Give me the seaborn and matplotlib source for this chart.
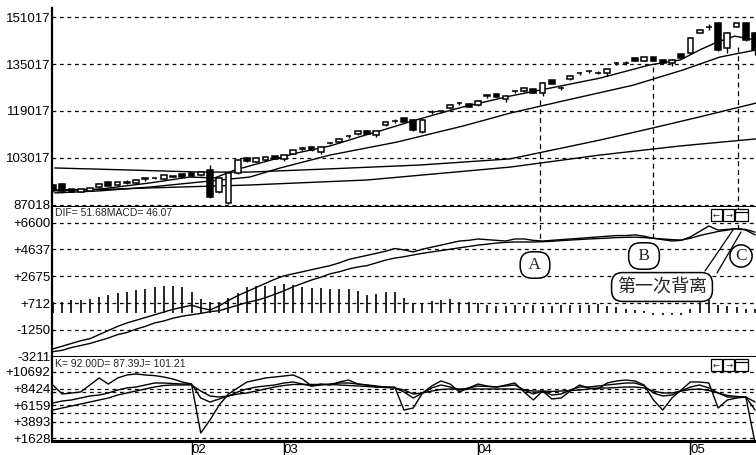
import matplotlib
matplotlib.use("Agg")
import matplotlib.pyplot as plt
from matplotlib.lines import Line2D
from matplotlib.patches import Rectangle
import seaborn as sns
import numpy as np

# ---------------- price panel (K-lines) ----------------
opens = [938, 941, 923, 918, 920, 930, 945, 938, 946, 945, 960, 961, 962, 967, 974, 975, 972, 989, 914, 877,
         979, 1028, 1022, 1024, 1035, 1030, 1045, 1062, 1066, 1050, 1080, 1085, 1103, 1112, 1121, 1112, 1142, 1155, 1162, 1159,
         1118, 1186, 1189, 1201, 1216, 1214, 1212, 1242, 1247, 1232, 1257, 1258, 1262, 1250, 1291, 1268, 1300, 1318, 1325, 1319,
         1322, 1352, 1353, 1370, 1362, 1371, 1362, 1356, 1380, 1387, 1458, 1475, 1490, 1404, 1480, 1490, 1455]
closes = [921, 916, 918, 921, 924, 942, 938, 946, 948, 956, 961, 962, 968, 968, 969, 971, 982, 897, 962, 979,
          1023, 1020, 1025, 1032, 1028, 1037, 1055, 1064, 1058, 1067, 1081, 1094, 1105, 1121, 1115, 1119, 1152, 1156, 1157, 1125,
          1159, 1187, 1191, 1212, 1217, 1206, 1224, 1244, 1240, 1240, 1258, 1268, 1254, 1285, 1286, 1269, 1309, 1320, 1327, 1320,
          1330, 1354, 1354, 1363, 1372, 1364, 1357, 1364, 1375, 1438, 1466, 1476, 1398, 1455, 1486, 1432, 1398]
highs = [941, 945, 926, 925, 928, 945, 948, 949, 955, 959, 963, 964, 970, 970, 976, 978, 985, 1006, 965, 982,
         1026, 1032, 1030, 1035, 1037, 1040, 1058, 1066, 1069, 1070, 1085, 1097, 1107, 1124, 1124, 1121, 1155, 1162, 1164, 1162,
         1162, 1192, 1193, 1215, 1222, 1217, 1227, 1246, 1250, 1243, 1263, 1271, 1265, 1288, 1294, 1274, 1312, 1322, 1329, 1325,
         1333, 1356, 1359, 1373, 1375, 1374, 1366, 1367, 1383, 1441, 1469, 1486, 1493, 1458, 1490, 1493, 1458]
lows = [914, 912, 914, 915, 917, 927, 935, 934, 940, 942, 953, 959, 960, 965, 966, 968, 969, 893, 910, 874,
        975, 1016, 1018, 1021, 1025, 1020, 1042, 1055, 1055, 1045, 1076, 1082, 1097, 1110, 1112, 1100, 1140, 1150, 1155, 1122,
        1115, 1181, 1183, 1198, 1211, 1203, 1208, 1236, 1237, 1222, 1253, 1255, 1251, 1240, 1283, 1263, 1297, 1313, 1320, 1315,
        1310, 1347, 1348, 1360, 1359, 1361, 1350, 1345, 1372, 1384, 1455, 1466, 1395, 1387, 1478, 1428, 1380]

# moving averages, read as vertices (period index, price)
ma_a_x = [0.2, 5.1, 10.5, 14.8, 17.5, 19.7, 21.3, 26.4, 30, 33.5, 35.7, 38.6, 41.6, 44.4, 49.5, 53.8, 59.2, 64.6, 67.9, 70, 71.9, 73.8, 76.1]
ma_a = [921, 924, 945, 965, 962, 989, 1003, 1047, 1071, 1105, 1125, 1153, 1180, 1204, 1241, 1268, 1302, 1347, 1364, 1398, 1425, 1445, 1432]
ma_b_x = [0.2, 5.1, 10.5, 15.9, 21.3, 24.6, 30, 37.2, 44.4, 49.5, 55.6, 62.8, 68.2, 72.2, 76.1]
ma_b = [911, 918, 931, 948, 965, 996, 1040, 1084, 1139, 1183, 1227, 1278, 1330, 1374, 1398]
ma_c_x = [0.2, 8.3, 15.9, 21.3, 30, 39.7, 49.5, 59.2, 64.9, 70, 76.1]
ma_c = [996, 989, 982, 982, 993, 1006, 1027, 1091, 1132, 1170, 1217]
ma_d_x = [0.2, 10.5, 21.3, 34, 49.5, 59.2, 67.9, 76.1]
ma_d = [918, 928, 938, 955, 999, 1040, 1071, 1095]

price_ticks = [1510.17, 1350.17, 1190.17, 1030.17, 870.18]
price_labels = ["151017", "135017", "119017", "103017", "87018"]

# ---------------- MACD panel ----------------
dif = [-26.5, -24.5, -22.5, -20.5, -19, -16, -13, -10, -7.5, -5.5, -3.5, -1.5, 0.5, 2.5, 4, 5.5, 3.5, 2, 5, 9,
       12.5, 15.5, 18.5, 21.5, 24.5, 27, 28.5, 30, 31.5, 33, 34.5, 36.5, 39, 40.5, 42, 43.5, 45, 47, 46, 44.5,
       46.5, 48, 49.5, 51, 52.5, 53, 54, 53.5, 53, 52.5, 54, 54, 53, 52.5, 53, 53.5, 54, 54.5, 55, 55.5,
       56, 56.5, 56.5, 57, 56, 54.5, 53.5, 52.5, 53, 55.5, 59.5, 63.5, 60.5, 61, 61.5, 60.5, 57]
dea = [-28.5, -27.5, -25.5, -24, -22.5, -20.5, -18.5, -16, -14.5, -12, -10, -7.5, -6, -4, -2.5, -1.5, -0.5, 0.8, 1.5, 3.5,
       5.5, 7.5, 9, 11, 13.5, 16, 19, 21.5, 24, 26, 28.5, 30, 32, 33.5, 34.5, 36.5, 38.5, 40, 41, 42.3,
       43.5, 44.5, 45.5, 46.5, 47.5, 48.5, 49.5, 50.2, 51, 51.5, 51.8, 51.8, 51.8, 52, 52.3, 52.8, 53.2, 53.6, 54, 54.3,
       54.6, 55, 55.2, 55.3, 55, 54.5, 54, 53.5, 53.2, 54.5, 56.5, 58, 59.5, 60.5, 61.5, 61, 59]
macd_bar = [7.8, 7.8, 9.2, 9.2, 10, 11.5, 13, 14.5, 15, 16.5, 17.5, 19, 19.9, 19.5, 19, 15, 10, 7.8, 7.8, 11,
            14.5, 18.5, 19.5, 19.9, 19.9, 21, 20, 18.5, 18.4, 18.4, 17.7, 17.7, 17.7, 16, 13, 14, 14.9, 14.9, 11, 7,
            7, 8.5, 9.2, 10, 8, 7.8, 7, 5.5, 5, 5, 5.5, 5, 5.5, 5, 5, 5.5, 5.5, 6, 6, 6.5,
            5, 4, 3, 2, 1.5, -1.5, -2, -2, -1.5, 3, 8, 9, 6, 5, 4, 3, 2.5]
macd_ticks = [66.00, 46.37, 26.75, 7.12, -12.50, -32.11]
macd_labels = ["+6600", "+4637", "+2675", "+712", "-1250", "-3211"]

# ---------------- KDJ panel ----------------
k_line = [64.4, 67.1, 68.5, 71.2, 74, 75.3, 78.1, 82.2, 85, 86.3, 89.1, 91.8, 91.8, 91.1, 90.4, 90.4, 71.2, 65.7, 69.9, 74,
          79.5, 83.6, 86.3, 87.7, 89.1, 91.8, 93.2, 90.4, 87.7, 89.1, 90.4, 91.8, 91.8, 90.4, 89.1, 87.7, 86.3, 85, 79.5, 71.2,
          78.1, 85, 89.1, 86.3, 82.2, 85, 87.7, 87, 86.3, 87.7, 89.1, 82.2, 76.7, 80.8, 75.3, 76.7, 82.2, 86.3, 86.3, 87.7,
          89.1, 90.4, 91.8, 91.8, 87.7, 78.1, 74, 75.3, 80.8, 86.3, 89.1, 85, 78.1, 72.6, 72.6, 72.6, 54.7]
d_line = [54.7, 57.5, 60.2, 63, 65.7, 68.5, 71.2, 75.3, 78.1, 80.8, 83.6, 86.3, 88.4, 89.1, 89.1, 89.1, 80.8, 74, 72.6, 74,
          76.7, 78.1, 80.8, 83.6, 86.3, 88.4, 89.8, 89.8, 89.8, 89.8, 89.8, 89.1, 88.4, 87.7, 87, 86.3, 85.6, 85, 82.2, 76.7,
          78.1, 80.8, 82.9, 83.6, 83.6, 83.6, 83.6, 83.6, 83.6, 83.6, 83.6, 82.2, 80.8, 80.8, 80.2, 80.8, 81.5, 82.2, 83.6, 85,
          85, 85.6, 86.3, 86.3, 85, 80.8, 78.1, 78.1, 80.8, 82.9, 83.6, 81.5, 78.1, 74.7, 73.3, 72.6, 65.7]
j_line = [89, 76.7, 78, 79.5, 89, 98.7, 90.4, 98.7, 102.8, 104.2, 102.8, 102, 100, 97.3, 93.2, 90.4, 23.2, 41, 61.6, 76.7,
          85, 93.2, 95.9, 98.7, 100, 101.4, 102.8, 97.3, 87.7, 90.4, 89, 93.2, 95.9, 90.4, 89, 86.3, 86.3, 86.3, 54.7, 57.5,
          78, 87.7, 94.6, 90.4, 79.5, 85, 90.4, 87.7, 86.3, 89, 91.8, 79.5, 68.5, 80.8, 69.9, 71.2, 80.8, 89, 85, 83.6,
          91.8, 94.6, 95.9, 94.6, 89, 68.5, 54.7, 71.2, 82.2, 93.2, 93.2, 91.8, 57.5, 68.5, 71.2, 72.6, 9.4]
kdj_ticks = [106.92, 84.24, 61.59, 38.93, 16.28]
kdj_labels = ["+10692", "+8424", "+6159", "+3893", "+1628"]
kdj_extra = [80.0, 50.0]

# month marks and divergence points A, B, C
month_pos = [15, 25, 46, 69]
month_labels = ["02", "03", "04", "05"]
div_pos = [52.7, 64.9, 74.1]
div_price = [1227, 1340, 1408]
div_dif = [52.5, 52.5, 61.3]
div_names = ["A", "B", "C"]

sns.set_theme(style="white")
plt.rcParams["font.family"] = ["Liberation Sans", "DejaVu Sans"]

W, H = 756, 455
fig = plt.figure(figsize=(W / 100, H / 100), dpi=100)


def box(top, bottom, left=52, right=756):
    return [left / W, 1 - bottom / H, (right - left) / W, (bottom - top) / H]


def fx(px):
    return px / W


def fy(py):
    return 1 - py / H


ax1 = fig.add_axes(box(8, 207))
ax2 = fig.add_axes(box(207, 357))
ax3 = fig.add_axes(box(357, 441))
dash = (0, (3, 3))

for ax, ticks, labels in [(ax1, price_ticks, price_labels), (ax2, macd_ticks, macd_labels), (ax3, kdj_ticks, kdj_labels)]:
    ax.set_xlim(-0.1, 76.1)
    ax.set_yticks(ticks)
    ax.set_yticklabels(labels, fontsize=9.5, color="black")
    ax.tick_params(axis="y", length=0, pad=1)
    for v in ticks:
        ax.axhline(v, color="black", lw=0.9, ls=dash, zorder=1)
    for s in ["top", "right"]:
        ax.spines[s].set_visible(False)
    ax.spines["left"].set_linewidth(1.6)
    ax.spines["bottom"].set_linewidth(2.2)
    ax.spines["left"].set_color("black")
    ax.spines["bottom"].set_color("black")
    ax.set_facecolor("white")

ax1.set_ylim(863, 1541)
ax2.set_ylim(-32.4, 77.4)
ax3.set_ylim(12.2, 127.5)
ax1.set_xticks([])
ax2.set_xticks([])

# candles
idx = np.arange(len(closes))
o = np.array(opens, float)
c = np.array(closes, float)
hi = np.array(highs, float)
lo = np.array(lows, float)
ax1.vlines(idx, lo, hi, color="black", lw=1, zorder=2)
up = c >= o
body = np.abs(c - o)
body_h = np.where(body < 3, 1.5, np.maximum(body, 11))
body_lo = (o + c) / 2 - body_h / 2
ax1.bar(idx[up], body_h[up], bottom=body_lo[up], width=0.62, color="white", edgecolor="black", lw=1.1, zorder=3)
ax1.bar(idx[~up], body_h[~up], bottom=body_lo[~up], width=0.62, color="black", edgecolor="black", lw=1.1, zorder=3)

for xs, ys in [(ma_a_x, ma_a), (ma_b_x, ma_b), (ma_c_x, ma_c), (ma_d_x, ma_d)]:
    sns.lineplot(x=xs, y=ys, ax=ax1, color="black", lw=1, zorder=2)

# MACD
ax2.vlines(idx, 0, macd_bar, color="black", lw=1.2, zorder=2)
sns.lineplot(x=idx, y=dif, ax=ax2, color="black", lw=1, zorder=3)
sns.lineplot(x=idx, y=dea, ax=ax2, color="black", lw=1, zorder=3)

# KDJ
for v in kdj_extra:
    ax3.axhline(v, color="black", lw=0.9, ls=dash, zorder=1)
for series in [k_line, d_line, j_line]:
    sns.lineplot(x=idx, y=series, ax=ax3, color="black", lw=1, zorder=3)

ax3.set_xticks(month_pos)
ax3.set_xticklabels(month_labels, fontsize=9.5, ha="left", color="black")
ax3.tick_params(axis="x", direction="out", length=10, width=1, pad=-8, color="black", bottom=True)

for ax in (ax1, ax2, ax3):
    ax.set_xlabel("")
    ax.set_ylabel("")

# divergence guides
for xp, yp, yd in zip(div_pos, div_price, div_dif):
    ax1.plot([xp, xp], [yp, 863], color="black", lw=0.9, ls=(0, (4, 3)), zorder=1)
    ax2.plot([xp, xp], [77.4, yd], color="black", lw=0.9, ls=(0, (4, 3)), zorder=1)

# header texts
fig.text(fx(55), fy(213), "DIF= 51.68MACD= 46.07", fontsize=7.5, va="center", ha="left")
fig.text(fx(55), fy(364), "K= 92.00D= 87.39J= 101.21", fontsize=7.5, va="center", ha="left")

# little scroll buttons
for ytop in (209, 359):
    for x0, wd, s in [(711, 11, "←"), (723, 11, "→"), (735, 13, "")]:
        fig.add_artist(Rectangle((fx(x0), fy(ytop + 12)), wd / W, 12 / H, transform=fig.transFigure,
                                 fc="white", ec="black", lw=0.9))
        if s:
            fig.text(fx(x0 + wd / 2), fy(ytop + 6), s, fontsize=6, ha="center", va="center",
                     family="DejaVu Sans")
    fig.add_artist(Line2D([fx(735), fx(748)], [fy(ytop + 3), fy(ytop + 3)], transform=fig.transFigure,
                          color="black", lw=0.9))

# labels A, B, C and the callout
serif = ["Liberation Serif", "DejaVu Serif"]
rbox = dict(boxstyle="round,pad=0.3,rounding_size=0.7", fc="white", ec="black", lw=1.1)
fig.text(fx(535), fy(265), " " + div_names[0] + " ", fontsize=12.5, ha="center", va="center", family=serif, bbox=rbox)
fig.text(fx(644), fy(256), " " + div_names[1] + " ", fontsize=12.5, ha="center", va="center", family=serif, bbox=rbox)
fig.text(fx(741), fy(256), div_names[2], fontsize=12.5, ha="center", va="center", family=serif,
         bbox=dict(boxstyle="circle,pad=0.18", fc="white", ec="black", lw=1.1))
fig.add_artist(Line2D([fx(705), fx(733)], [fy(271), fy(230)], transform=fig.transFigure, color="black", lw=0.9))
fig.add_artist(Line2D([fx(717), fx(741)], [fy(273), fy(232)], transform=fig.transFigure, color="black", lw=0.9))
fig.text(fx(662), fy(287), "第一次背离", fontsize=13, ha="center", va="center",
         family=["Noto Sans CJK SC", "DejaVu Sans"],
         bbox=dict(boxstyle="round,pad=0.3,rounding_size=0.6", fc="white", ec="black", lw=1.1))

fig.savefig("out.png", dpi=100, facecolor="white")
